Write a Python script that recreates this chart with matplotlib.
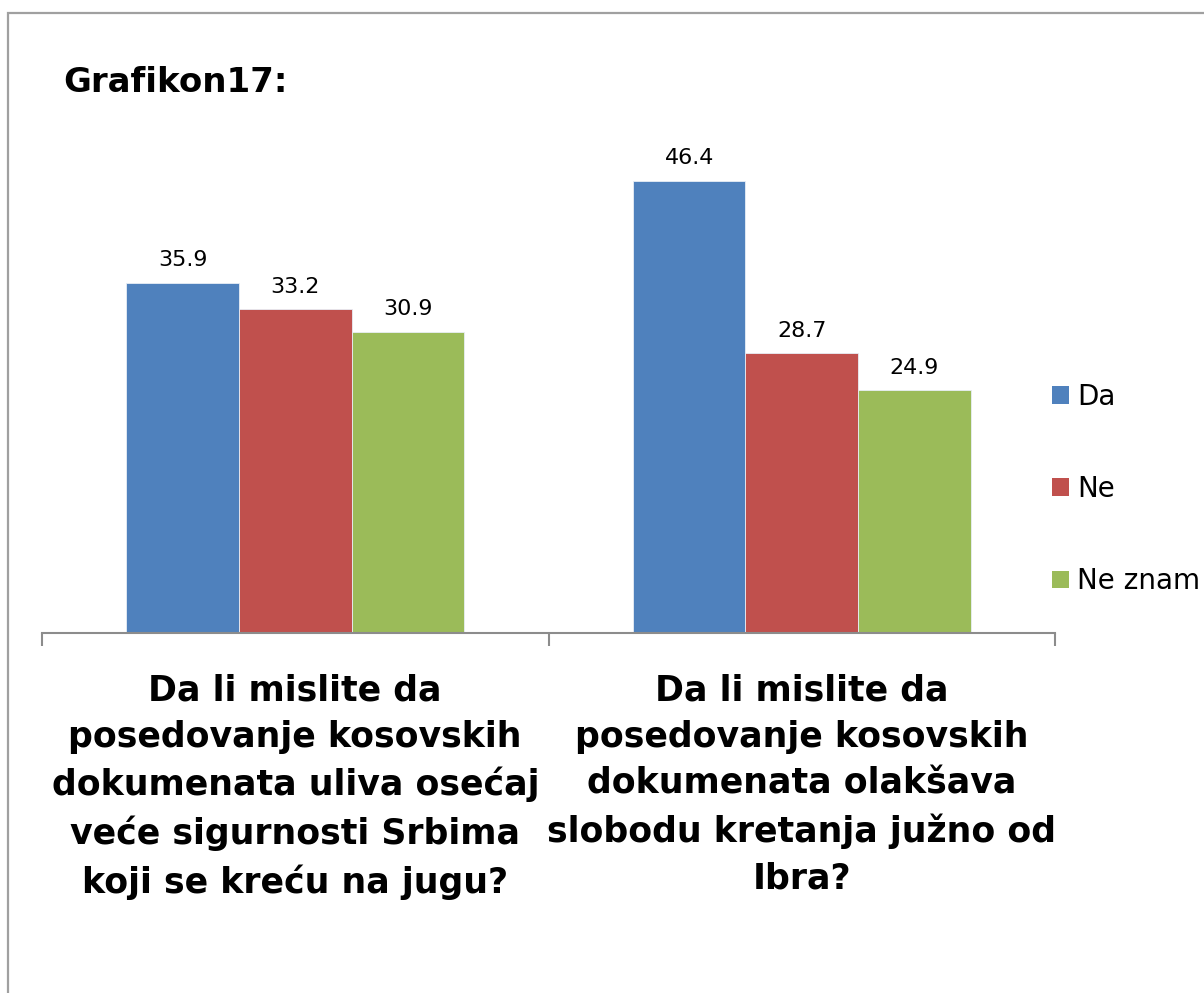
import numpy as np
import matplotlib
matplotlib.use("Agg")
import matplotlib.pyplot as plt
from matplotlib.patches import Rectangle, Patch

# data
categories = [
    "Da li mislite da\nposedovanje kosovskih\ndokumenata uliva osećaj\nveće sigurnosti Srbima\nkoji se kreću na jugu?",
    "Da li mislite da\nposedovanje kosovskih\ndokumenata olakšava\nslobodu kretanja južno od\nIbra?",
]
series_names = ["Da", "Ne", "Ne znam"]
da_values = [35.9, 46.4]
ne_values = [33.2, 28.7]
ne_znam_values = [30.9, 24.9]

colors = ["#4F81BD", "#C0504D", "#9BBB59"]

W, H = 1204, 993
fig = plt.figure(figsize=(W / 100, H / 100), dpi=100)
plt.rcParams["font.family"] = ["DejaVu Sans"]

# outer frame (left and top visible, rest runs off the image)
fig.add_artist(Rectangle((8 / W, -0.1), 1.2, (H - 13) / H + 0.1,
                         transform=fig.transFigure, fill=False,
                         edgecolor="#a0a0a0", linewidth=1.6))

ax = fig.add_axes([42 / W, (H - 633) / H, 1013 / W, 487.5 / H])

x = np.arange(len(categories))
width = 0.2222
all_values = [da_values, ne_values, ne_znam_values]
for i, (vals, name) in enumerate(zip(all_values, series_names)):
    bars = ax.bar(x + (i - 1) * width, vals, width, color=colors[i],
                  edgecolor="#e8eef6", linewidth=0.6, label=name)
    for b, v in zip(bars, vals):
        ax.annotate(f"{v:.1f}", (b.get_x() + b.get_width() / 2, v),
                    xytext=(0, 9), textcoords="offset points",
                    ha="center", va="bottom", fontsize=16, color="black")

ax.set_xlim(-0.5, 1.5)
ax.set_ylim(0, 50)
ax.set_yticks([])
for s in ["top", "left", "right"]:
    ax.spines[s].set_visible(False)
ax.spines["bottom"].set_color("#8c8c8c")
ax.spines["bottom"].set_linewidth(1.5)

ax.set_xticks(x)
ax.set_xticklabels(categories, fontsize=25, fontweight="bold", linespacing=1.46)
ax.tick_params(axis="x", which="major", length=0, pad=29)
ax.set_xticks([-0.5, 0.5, 1.5], minor=True)
ax.tick_params(axis="x", which="minor", length=9, width=1.5, color="#8c8c8c")

fig.text(63 / W, 1 - 82 / H, "Grafikon17:", fontsize=24.5, fontweight="bold",
         ha="left", va="center")

handles = [Patch(facecolor=c, edgecolor="none") for c in colors]
fig.legend(handles, series_names, loc="center left",
           bbox_to_anchor=(1052 / W, 1 - 489 / H), frameon=False,
           fontsize=20, handlelength=0.6, handleheight=0.6,
           handletextpad=0.3, labelspacing=2.32, borderpad=0, borderaxespad=0)

fig.savefig("out.png", dpi=100)
